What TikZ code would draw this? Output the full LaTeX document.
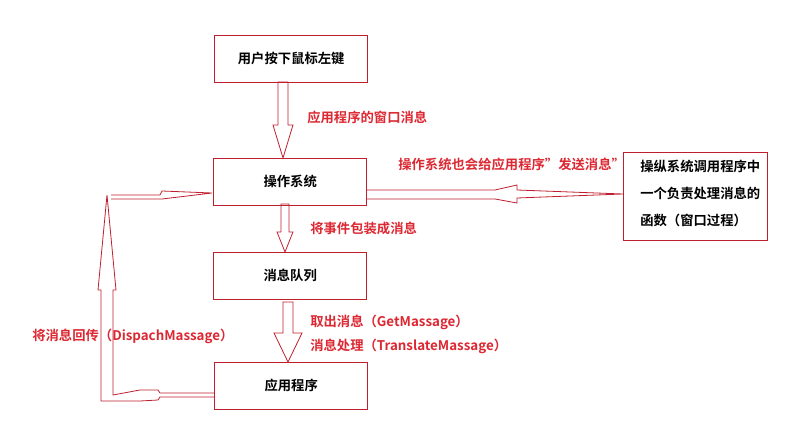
\documentclass[tikz,border=0pt]{standalone}
\usepackage{fontspec}
\newfontfamily\cjk{Noto Sans CJK SC}[BoldFont={Noto Sans CJK SC Bold}]
\definecolor{rd}{RGB}{220,40,50}
\definecolor{bd}{RGB}{190,30,45}
\newcommand\downblk[6]{% x, ytop, ybot, yhead, half shaft, half head
 \draw[blk] (#1-#5,#2)--(#1+#5,#2)--(#1+#5,#4)--(#1+#6,#4)--(#1,#3)--(#1-#6,#4)--(#1-#5,#4)--cycle;}
\begin{document}
\begin{tikzpicture}[x=0.75pt,y=-0.75pt,
 box/.style={draw=bd,line width=0.8pt,minimum width=115pt,minimum height=35pt,font=\cjk\bfseries\fontsize{10}{12}\selectfont,anchor=north west,inner sep=0pt},
 blk/.style={draw=bd,line width=0.6pt},
 lab/.style={text=rd,font=\cjk\bfseries\fontsize{10}{12}\selectfont,anchor=west,inner sep=0pt}]
\useasboundingbox (0,0) rectangle (811,438);
\node[box] (a) at (214,35) {用户按下鼠标左键};
\node[box] (b) at (213,158) {操作系统};
\node[box] (c) at (213,252) {消息队列};
\node[box] (d) at (214,362) {应用程序};
\node[draw=bd,line width=0.8pt,anchor=north west,minimum width=108pt,minimum height=66pt,inner sep=0pt] (e) at (623,152) {};
\node[font=\cjk\bfseries\fontsize{10}{12}\selectfont,align=left,anchor=north west,inner sep=0pt] (et) at (640,160) {操纵系统调用程序中\\[8pt]一个负责处理消息的\\[8pt]函数（窗口过程）};
\downblk{283}{82}{158}{125}{5}{10}
\downblk{285}{204}{252}{232}{4}{8}
\downblk{288}{302}{362}{333}{5}{14}
% loop
\draw[blk] (214,393)--(160,393)--(158,390)--(140,390)--(113,395)--(113,290)--(116,290)--(107,195)--(98,290)--(101,290)--(101,401)--(140,401)--(158,400)--(160,397)--(214,397);
\draw[blk] (111,195)--(160,195)--(162,191)--(212,193)--(162,199)--(160,199)--(111,199);
% right arrow
\draw[blk] (366,190)--(495,190)--(517,185)--(517,190)--(623,194)--(517,198)--(517,203)--(495,199)--(366,199);
\node[lab] at (307,117) {应用程序的窗口消息};
\node[lab] at (398,164) {操作系统也会给应用程序”发送消息”};
\node[lab] at (310,228) {将事件包装成消息};
\node[lab] at (310,322) {取出消息（GetMassage）};
\node[lab] at (310,346) {消息处理（TranslateMassage）};
\node[lab] at (32,336) {将消息回传（DispachMassage）};
\end{tikzpicture}
\end{document}
